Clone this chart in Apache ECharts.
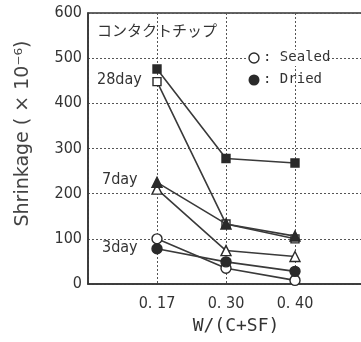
<!DOCTYPE html>
<html><head><meta charset="utf-8">
<script src="https://cdn.jsdelivr.net/npm/echarts@6/dist/echarts.min.js"></script>
<style>html,body{margin:0;padding:0;background:#fff}#c{width:361px;height:342px}</style>
</head><body><div id="c"></div>
<script>
// Data
const categories = ['', '0. 17', '0. 30', '0. 40', ''];
const day28Dried  = [null, 476, 278, 268, null];
const day28Sealed = [null, 448, 133, 100, null];
const day7Dried   = [null, 225, 133, 106, null];
const day7Sealed  = [null, 210, 74, 61, null];
const day3Sealed  = [null, 100, 35, 8, null];
const day3Dried   = [null, 78, 49, 28, null];
const yMin = 0, yMax = 600, yStep = 100;

const INK = '#333';
const NARROW = "'Liberation Sans Narrow','DejaVu Sans Condensed',sans-serif";
const MONO = "'DejaVu Sans Mono','Liberation Mono',monospace";

function mk(name, data, symbol, filled, size) {
  return {
    name, type: 'line', data, symbol, symbolSize: size,
    connectNulls: false,
    lineStyle: { color: '#3a3a3a', width: 1.6 },
    itemStyle: { color: filled ? '#2a2a2a' : '#fff', borderColor: '#2a2a2a', borderWidth: 1.4 },
    z: filled ? 4 : 3
  };
}

const chart = echarts.init(document.getElementById('c'), null, { renderer: 'canvas' });
chart.setOption({
  animation: false,
  backgroundColor: '#fff',
  grid: { left: 88, top: 13, width: 276, height: 271, outerBoundsMode: 'none', containLabel: false,
          show: true, borderColor: INK, borderWidth: 1.5, backgroundColor: 'transparent' },
  xAxis: {
    type: 'category', data: categories, boundaryGap: false,
    axisLine: { lineStyle: { color: INK, width: 1.5 } },
    axisTick: { show: false },
    axisLabel: { color: '#333', fontFamily: NARROW, fontSize: 16, margin: 12 },
    splitLine: { show: true, lineStyle: { type: [2, 2], color: '#555', width: 1 } },
    name: 'W/(C+SF)', nameLocation: 'middle', nameGap: 32,
    nameTextStyle: { color: '#333', fontFamily: MONO, fontSize: 18, padding: [0, 0, 0, 20] }
  },
  yAxis: {
    type: 'value', min: yMin, max: yMax, interval: yStep,
    axisLine: { show: true, lineStyle: { color: INK, width: 1.5 } },
    axisTick: { show: false },
    axisLabel: { color: '#333', fontFamily: NARROW, fontSize: 16, margin: 6 },
    splitLine: { show: true, lineStyle: { type: [2, 2], color: '#555', width: 1 } },
    name: 'Shrinkage ( × 10⁻⁶)', nameLocation: 'middle', nameGap: 55, nameRotate: 90,
    nameTextStyle: { color: '#444', fontFamily: "'DejaVu Sans',sans-serif", fontSize: 19, padding: [0, 0, 0, 30] }
  },
  series: [
    mk('28day Sealed', day28Sealed, 'rect', false, 8),
    mk('28day Dried', day28Dried, 'rect', true, 8),
    mk('7day Sealed', day7Sealed, 'triangle', false, 10),
    mk('7day Dried', day7Dried, 'triangle', true, 10),
    mk('3day Sealed', day3Sealed, 'circle', false, 10),
    mk('3day Dried', day3Dried, 'circle', true, 10)
  ],
  graphic: [
    { type: 'text', left: 97, top: 23, z: 10, style: { text: 'コンタクトチップ', fill: '#333', font: "15px 'Noto Sans CJK JP'" } },
    { type: 'text', left: 97, top: 72, z: 10, style: { text: '28day', fill: '#333', font: "16px " + NARROW } },
    { type: 'text', left: 102, top: 172, z: 10, style: { text: '7day', fill: '#333', font: "16px " + NARROW } },
    { type: 'text', left: 102, top: 240, z: 10, style: { text: '3day', fill: '#333', font: "16px " + NARROW } },
    { type: 'rect', left: 246, top: 50, z: 9, shape: { width: 80, height: 16 }, style: { fill: '#fff' } },
    { type: 'circle', z: 10, shape: { cx: 254, cy: 58, r: 5 }, style: { fill: '#fff', stroke: '#2a2a2a', lineWidth: 1.4 } },
    { type: 'text', left: 263, top: 50, z: 10, style: { text: ': Sealed', fill: '#333', font: "14px " + MONO } },
    { type: 'circle', z: 10, shape: { cx: 254, cy: 80, r: 5.5 }, style: { fill: '#2a2a2a' } },
    { type: 'text', left: 263, top: 72, z: 10, style: { text: ': Dried', fill: '#333', font: "14px " + MONO } }
  ]
});
</script></body></html>
